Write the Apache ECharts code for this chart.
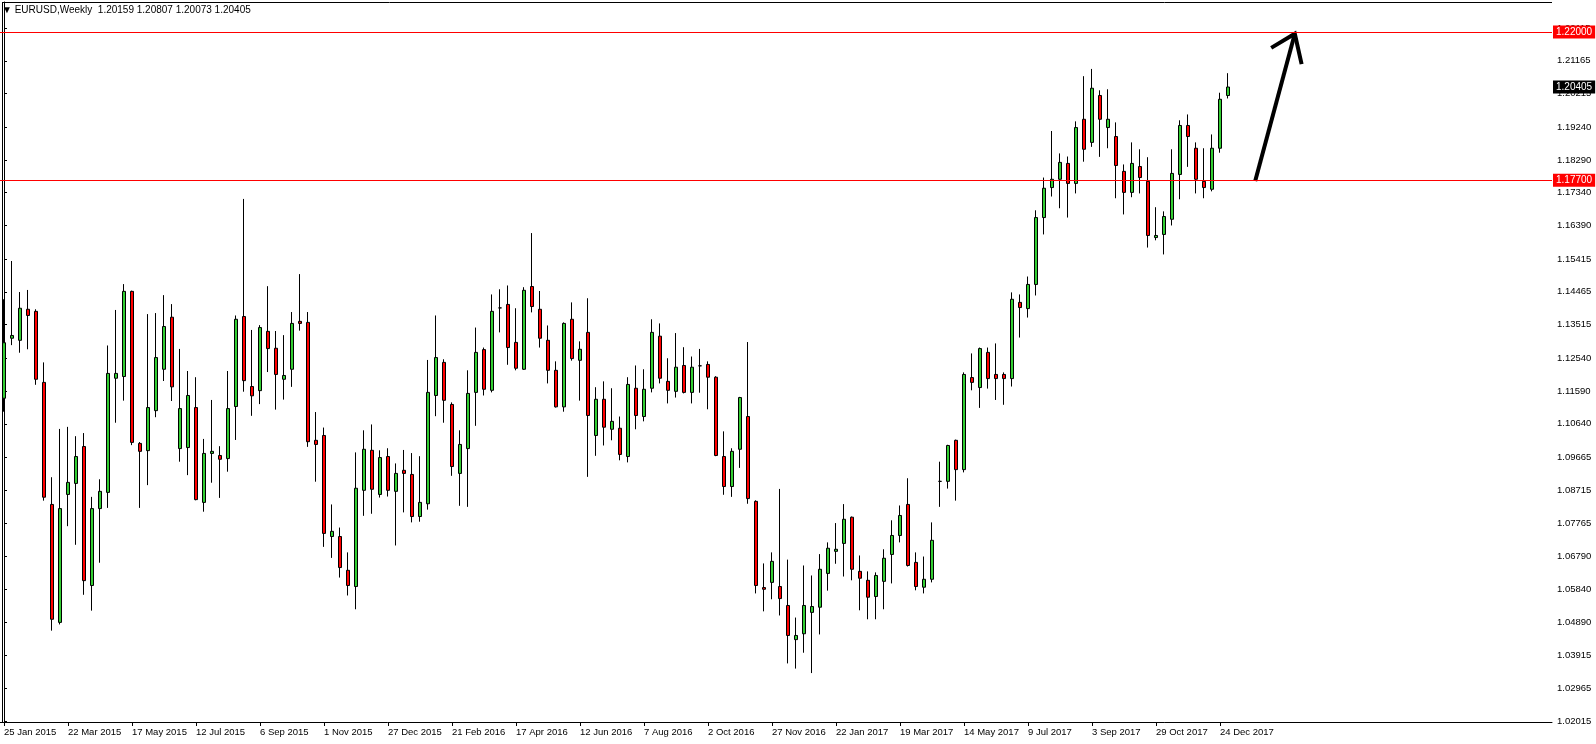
<!DOCTYPE html>
<html><head><meta charset="utf-8">
<script src="https://cdn.jsdelivr.net/npm/echarts@6/dist/echarts.min.js"></script>
<style>html,body{margin:0;padding:0;background:#fff}#c{width:1596px;height:744px}</style>
</head><body><div id="c"></div>
<script>
// ---------- data (weekly EURUSD) ----------
const symbolName = 'EURUSD';
const timeframe = 'Weekly';
const openP = [1.1138,1.1312,1.1306,1.1396,1.1390,1.1184,1.0830,1.0488,1.0859,1.0891,1.0998,1.0595,1.0818,1.0865,1.1196,1.1201,1.1448,1.1007,1.0986,1.1102,
1.1222,1.1373,1.0992,1.0995,1.1111,1.0836,1.0978,1.0972,1.0963,1.1114,1.1375,1.1172,1.1160,1.1332,1.1283,1.1193,1.1222,1.1361,1.1358,1.1016,
1.1030,1.0737,1.0737,1.0639,1.0592,1.0871,1.0987,1.0859,1.0969,1.0868,1.0929,1.0917,1.0795,1.0832,1.1146,1.1242,1.1120,1.0920,1.0992,1.1155,
1.1279,1.1161,1.1400,1.1410,1.1300,1.1222,1.1462,1.1396,1.1306,1.1219,1.1113,1.1367,1.1248,1.1329,1.1030,1.1135,1.1048,1.1051,1.0969,1.1167,
1.1085,1.1167,1.1318,1.1187,1.1158,1.1233,1.1155,1.1232,1.1236,1.1199,1.0969,1.0882,1.0990,1.1085,1.0839,1.0589,1.0604,1.0592,1.0537,1.0438,
1.0455,1.0517,1.0532,1.0630,1.0694,1.0717,1.0793,1.0636,1.0610,1.0563,1.0607,1.0685,1.0740,1.0830,1.0662,1.0590,1.0613,1.0897,1.0897,1.1016,
1.0931,1.1198,1.1169,1.1271,1.1207,1.1207,1.1195,1.1416,1.1398,1.1468,1.1662,1.1749,1.1773,1.1819,1.1761,1.1947,1.1880,1.2016,1.1923,1.1897,
1.1796,1.1735,1.1810,1.1767,1.1604,1.1613,1.1657,1.1787,1.1929,1.1863,1.1767,1.1744,1.1863,1.20159];
const highP = [1.1425,1.1536,1.1446,1.1452,1.1396,1.1242,1.0909,1.1049,1.1055,1.1028,1.1037,1.0852,1.0903,1.1291,1.1394,1.1469,1.1450,1.1011,1.1382,1.1385,
1.1437,1.1411,1.1281,1.1217,1.1199,1.1020,1.1133,1.0999,1.1217,1.1378,1.1716,1.1336,1.1350,1.1463,1.1333,1.1321,1.1388,1.1498,1.1388,1.1098,
1.1053,1.0830,1.0763,1.0691,1.0981,1.1045,1.1062,1.0987,1.0993,1.0949,1.0988,1.0979,1.0970,1.1249,1.1378,1.1251,1.1126,1.1045,1.1219,1.1343,
1.1285,1.1439,1.1454,1.1465,1.1399,1.1460,1.1617,1.1449,1.1349,1.1245,1.1358,1.1416,1.1303,1.1428,1.1170,1.1187,1.1167,1.1085,1.1199,1.1233,
1.1222,1.1367,1.1355,1.1254,1.1327,1.1286,1.1259,1.1281,1.1245,1.1202,1.1042,1.0993,1.1142,1.1301,1.0842,1.0659,1.0691,1.0875,1.0670,1.0502,
1.0653,1.0624,1.0686,1.0720,1.0776,1.0831,1.0795,1.0682,1.0636,1.0633,1.0700,1.0784,1.0827,1.0906,1.0691,1.0679,1.0778,1.0954,1.1003,1.1018,
1.1213,1.1268,1.1285,1.1285,1.1297,1.1213,1.1445,1.1439,1.1491,1.1683,1.1778,1.1913,1.1848,1.1839,1.1941,1.2072,1.2093,1.2031,1.2034,1.1938,
1.1816,1.1880,1.1860,1.1837,1.1692,1.1680,1.1860,1.1944,1.1961,1.1880,1.1863,1.1903,1.2024,1.20807];
const lowP = [1.1099,1.1292,1.1270,1.1280,1.1177,1.0841,1.0464,1.0482,1.0767,1.0713,1.0568,1.0522,1.0661,1.0820,1.1067,1.1131,1.1002,1.0820,1.0886,1.1083,
1.1188,1.1130,1.0954,1.0915,1.0842,1.0809,1.0893,1.0849,1.0925,1.1017,1.1157,1.1087,1.1121,1.1214,1.1105,1.1134,1.1171,1.1334,1.0997,1.0896,
1.0707,1.0675,1.0618,1.0566,1.0526,1.0797,1.0803,1.0850,1.0853,1.0711,1.0807,1.0778,1.0780,1.0815,1.1086,1.1067,1.0913,1.0826,1.0823,1.1058,
1.1146,1.1155,1.1329,1.1235,1.1219,1.1220,1.1387,1.1285,1.1181,1.1111,1.1099,1.1247,1.1131,1.0910,1.0971,1.1001,1.1016,1.0958,1.0952,1.1048,
1.1071,1.1155,1.1181,1.1123,1.1140,1.1152,1.1123,1.1154,1.1106,1.0970,1.0858,1.0852,1.0936,1.0832,1.0572,1.0520,1.0555,1.0508,1.0369,1.0354,
1.0400,1.0341,1.0453,1.0580,1.0658,1.0621,1.0610,1.0523,1.0497,1.0497,1.0526,1.0601,1.0720,1.0650,1.0581,1.0572,1.0604,1.0823,1.0876,1.0841,
1.0923,1.1161,1.1110,1.1166,1.1133,1.1119,1.1172,1.1314,1.1372,1.1436,1.1613,1.1723,1.1689,1.1662,1.1732,1.1824,1.1867,1.1838,1.1863,1.1718,
1.1671,1.1721,1.1732,1.1575,1.1596,1.1555,1.1639,1.1715,1.1809,1.1732,1.1718,1.1738,1.1850,1.20073];
const closeP = [1.1299,1.1320,1.1399,1.1378,1.1193,1.0851,1.0497,1.0818,1.0894,1.0969,1.0609,1.0818,1.0868,1.1210,1.1210,1.1448,1.1010,1.0984,1.1111,1.1256,
1.1346,1.1171,1.1108,1.1146,1.0844,1.0978,1.0984,1.0961,1.1108,1.1367,1.1189,1.1145,1.1343,1.1282,1.1207,1.1204,1.1355,1.1355,1.1012,1.1004,
1.0746,1.0752,1.0647,1.0595,1.0877,1.0990,1.0874,1.0966,1.0871,1.0920,1.0920,1.0795,1.0836,1.1155,1.1256,1.1132,1.0940,1.1004,1.1152,1.1271,
1.1164,1.1390,1.1400,1.1285,1.1225,1.1451,1.1404,1.1312,1.1219,1.1113,1.1355,1.1253,1.1280,1.1088,1.1135,1.1054,1.1071,1.0975,1.1178,1.1088,
1.1164,1.1329,1.1196,1.1161,1.1228,1.1155,1.1228,1.1232,1.1199,1.0972,1.0882,1.0984,1.1140,1.0847,1.0595,1.0584,1.0665,1.0557,1.0450,1.0450,
1.0537,1.0534,1.0642,1.0703,1.0700,1.0787,1.0642,1.0616,1.0561,1.0624,1.0674,1.0740,1.0798,1.0653,1.0592,1.0613,1.0726,1.0897,1.1001,1.0931,
1.1207,1.1184,1.1282,1.1195,1.1195,1.1195,1.1425,1.1401,1.1468,1.1662,1.1747,1.1773,1.1822,1.1761,1.1923,1.1860,1.2037,1.1947,1.1947,1.1813,
1.1735,1.1819,1.1778,1.1610,1.1610,1.1665,1.1790,1.1929,1.1897,1.1773,1.1749,1.1863,1.2005,1.20405];
const xTickLabels = ['25 Jan 2015','22 Mar 2015','17 May 2015','12 Jul 2015','6 Sep 2015','1 Nov 2015','27 Dec 2015','21 Feb 2016',
'17 Apr 2016','12 Jun 2016','7 Aug 2016','2 Oct 2016','27 Nov 2016','22 Jan 2017','19 Mar 2017','14 May 2017','9 Jul 2017',
'3 Sep 2017','29 Oct 2017','24 Dec 2017'];
const yTickLabels = ['1.22115','1.21165','1.20215','1.19240','1.18290','1.17340','1.16390','1.15415','1.14465','1.13515','1.12540',
'1.11590','1.10640','1.09665','1.08715','1.07765','1.06790','1.05840','1.04890','1.03915','1.02965','1.02015'];
const levelPrices = [1.22000, 1.17700];
// arrow annotation (x in bar units, y in price)
const arrowShaftX = [156.4, 161.35];
const arrowShaftY = [1.1768, 1.2195];
const arrowHeadX = [158.4, 161.35, 162.2];
const arrowHeadY = [1.2154, 1.2195, 1.2107];

// ---------- chart ----------
const totalSlots = 194;             // bars incl. empty right-hand space
const yMin = 1.01991, yMax = 1.22871;
const barsPerLabel = 8;
const MONTHS = ['Jan','Feb','Mar','Apr','May','Jun','Jul','Aug','Sep','Oct','Nov','Dec'];
const categories = [];
const t0 = Date.UTC(2015, 0, 25);
for (let i = 0; i < totalSlots; i++) {
  const d = new Date(t0 + i * 7 * 86400000);
  categories.push(d.getUTCDate() + ' ' + MONTHS[d.getUTCMonth()] + ' ' + d.getUTCFullYear());
}
const n = openP.length;
const candleData = openP.map((o, i) => [o, closeP[i], lowP[i], highP[i]]);
const showX = (idx) => idx % barsPerLabel === 0 && idx / barsPerLabel < xTickLabels.length;
const lastO = openP[n-1], lastH = highP[n-1], lastL = lowP[n-1], lastC = closeP[n-1];
const FONT = 'Liberation Sans';

const levelLineData = levelPrices.map(p => ({
  yAxis: p, lineStyle: {color: '#FF0000', width: 1, type: 'solid'},
  label: {formatter: p.toFixed(5), backgroundColor: '#FF0000'}
}));
const bidLineData = [{
  yAxis: lastC, lineStyle: {color: 'rgba(0,0,0,0)', width: 1, type: 'solid'},
  label: {formatter: lastC.toFixed(5), backgroundColor: '#000000', color: '#ffffff'}
}];
const markLabel = {show: true, position: 'end', distance: 1, padding: [2, 3, 1, 3], fontSize: 10, fontFamily: FONT, color: '#fff'};

const chart = echarts.init(document.getElementById('c'), null, {renderer: 'canvas', devicePixelRatio: 1});
chart.setOption({
  animation: false,
  backgroundColor: '#ffffff',
  title: {
    text: '\u25BC ' + symbolName + ',' + timeframe + '  ' + [lastO, lastH, lastL, lastC].map(v => v.toFixed(5)).join(' '),
    left: 2, top: 5, padding: 0,
    textStyle: {fontSize: 10, fontWeight: 'normal', fontFamily: FONT, color: '#000'}
  },
  grid: {left: 0, right: 44, top: 2, bottom: 22, show: false},
  xAxis: [{
    type: 'category', data: categories, boundaryGap: true, gridIndex: 0,
    axisLine: {show: true, lineStyle: {color: '#000', width: 1}},
    axisTick: {show: true, interval: showX, alignWithLabel: true, length: 4, lineStyle: {color: '#000'}},
    axisLabel: {interval: showX, formatter: (v, idx) => xTickLabels[idx / barsPerLabel], align: 'left',
      margin: 5, fontSize: 9.5, fontFamily: FONT, color: '#000'},
    splitLine: {show: false}
  }, {
    type: 'value', min: -0.5, max: totalSlots - 0.5, show: false, gridIndex: 0
  }],
  yAxis: [{
    type: 'value', position: 'right', min: yMin, max: yMax, scale: true,
    axisLine: {show: true, lineStyle: {color: '#000', width: 1}},
    axisTick: {show: true, length: 3, lineStyle: {color: '#000'}, customValues: yTickLabels.map(Number)},
    axisLabel: {margin: 5, fontSize: 9.5, fontFamily: FONT, color: '#000', customValues: yTickLabels.map(Number),
      formatter: v => v.toFixed(5)},
    splitLine: {show: false}
  }],
  series: [{
    type: 'candlestick', xAxisIndex: 0, yAxisIndex: 0,
    data: candleData, barWidth: 4,
    itemStyle: {color: '#32CD32', color0: '#FF0000', borderColor: '#000', borderColor0: '#000', borderColorDoji: '#000', borderWidth: 1}
  }, {
    type: 'line', xAxisIndex: 1, yAxisIndex: 0, clip: false, silent: true, symbol: 'none',
    data: arrowShaftX.map((x, i) => [x, arrowShaftY[i]]),
    lineStyle: {color: '#000', width: 4, cap: 'butt'}
  }, {
    type: 'line', xAxisIndex: 1, yAxisIndex: 0, clip: false, silent: true, symbol: 'none',
    data: arrowHeadX.map((x, i) => [x, arrowHeadY[i]]),
    lineStyle: {color: '#000', width: 4, join: 'miter', cap: 'butt'}
  }, {
    name: 'levels', type: 'line', xAxisIndex: 1, yAxisIndex: 0, clip: false, silent: true, symbol: 'none',
    data: [], color: '#FF0000',
    markLine: {symbol: ['none', 'none'], silent: true, animation: false, precision: 5, label: markLabel, data: levelLineData}
  }, {
    name: 'bid', type: 'line', xAxisIndex: 1, yAxisIndex: 0, clip: false, silent: true, symbol: 'none',
    data: [], color: '#000',
    markLine: {symbol: ['none', 'none'], silent: true, animation: false, precision: 5, label: markLabel, data: bidLineData}
  }],
  graphic: [
    {type: 'line', silent: true, shape: {x1: 2.5, y1: 2, x2: 2.5, y2: 722}, style: {stroke: '#000', lineWidth: 1}},
    {type: 'line', silent: true, shape: {x1: 2, y1: 2.5, x2: 1552, y2: 2.5}, style: {stroke: '#000', lineWidth: 1}}
  ]
});
</script>
</body></html>
